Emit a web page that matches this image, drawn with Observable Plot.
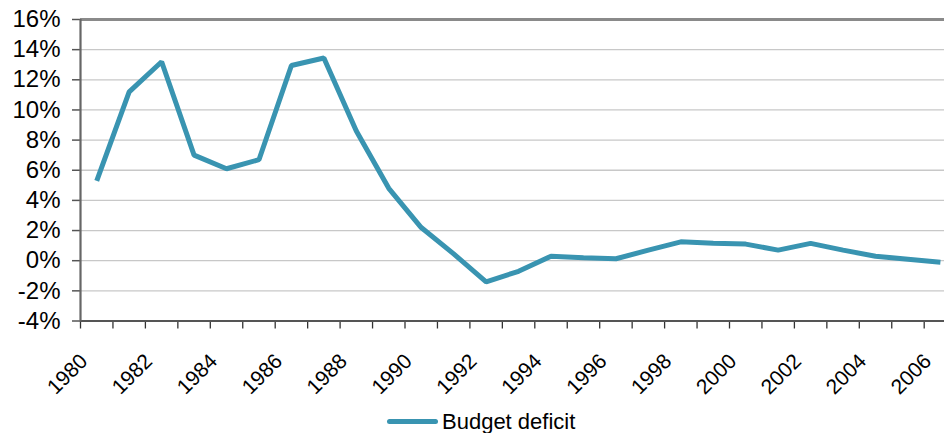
<!DOCTYPE html>
<html>
<head>
<meta charset="utf-8">
<script src="https://cdn.jsdelivr.net/npm/d3@7"></script>
<script src="https://cdn.jsdelivr.net/npm/@observablehq/plot@0.6"></script>
<style>
  html, body { margin: 0; padding: 0; background: #fff; overflow: hidden; }
  #chart svg { display: block; }
  #legend { position: relative; height: 28px; width: 944px; overflow: hidden;
            font-family: "Liberation Sans", Arial, sans-serif; }
  #legend .swatch { position: absolute; left: 387px; top: 14px; width: 51px; height: 5px;
                    border-radius: 2.5px; }
  #legend .label { position: absolute; left: 442px; top: 6px; font-size: 22px; line-height: 22px;
                   color: #000; white-space: nowrap; }
</style>
</head>
<body>
<div id="chart"></div>
<div id="legend"><span class="swatch"></span><span class="label"></span></div>
<script>
const years = [1980, 1981, 1982, 1983, 1984, 1985, 1986, 1987, 1988, 1989,
               1990, 1991, 1992, 1993, 1994, 1995, 1996, 1997, 1998, 1999,
               2000, 2001, 2002, 2003, 2004, 2005, 2006];
const budgetDeficit = [5.3, 11.2, 13.2, 7.0, 6.1, 6.7, 12.95, 13.45, 8.6, 4.8,
                       2.2, 0.45, -1.4, -0.7, 0.3, 0.2, 0.13, 0.7, 1.25, 1.15,
                       1.1, 0.7, 1.15, 0.7, 0.3, 0.1, -0.1];
const yTicks = [-4, -2, 0, 2, 4, 6, 8, 10, 12, 14, 16];
const xLabelYears = [1980, 1982, 1984, 1986, 1988, 1990, 1992, 1994, 1996,
                     1998, 2000, 2002, 2004, 2006];
const seriesName = "Budget deficit";
const lineColor = "#3994b1";

const data = years.map((year, i) => ({year, value: budgetDeficit[i]}));
const boundaries = years.map(y => y - 0.5).concat([years[years.length - 1] + 0.5]);
const yMin = yTicks[0], yMax = yTicks[yTicks.length - 1];

const plot = Plot.plot({
  width: 944,
  height: 405,
  marginLeft: 80,
  marginRight: 0,
  marginTop: 19,
  marginBottom: 84.5,
  style: {fontFamily: "'Liberation Sans', Arial, sans-serif", background: "#fff", overflow: "hidden"},
  x: {type: "linear", domain: [boundaries[0], boundaries[boundaries.length - 1]], range: [80, 80 + 27 * 32.45]},
  y: {domain: [yMin, yMax], range: [320.5, 19]},
  marks: [
    Plot.ruleY(yTicks.filter(t => t !== yMin && t !== yMax), {stroke: "#c8c8c8", strokeWidth: 1.3}),
    Plot.ruleY([yMax], {stroke: "#8a8a8a", strokeWidth: 3}),
    Plot.axisY({ticks: yTicks, tickFormat: d => d + "%", tickSize: 8, tickPadding: 12,
                fontSize: 24, stroke: "#555", strokeWidth: 1.5, strokeOpacity: 1, fill: "#000", label: null}),
    Plot.axisX({ticks: boundaries, tickFormat: () => "", tickSize: 8, stroke: "#333",
                strokeWidth: 1.3, strokeOpacity: 1, label: null}),
    Plot.text(xLabelYears, {x: d => d, text: d => String(d), frameAnchor: "bottom", dy: 41.5, dx: -8,
                            rotate: -45, textAnchor: "end", lineAnchor: "bottom", fontSize: 21, fill: "#000"}),
    Plot.ruleY([yMin], {stroke: "#555", strokeWidth: 2}),
    Plot.ruleX([boundaries[0]], {y1: yMin, y2: yMax, stroke: "#666", strokeWidth: 2.2}),
    Plot.lineY(data, {x: "year", y: "value", stroke: lineColor, strokeWidth: 5,
                      strokeLinejoin: "miter", strokeLinecap: "butt"})
  ]
});
document.getElementById("chart").appendChild(plot);
document.querySelector("#legend .swatch").style.background = lineColor;
document.querySelector("#legend .label").textContent = seriesName;
</script>
</body>
</html>
